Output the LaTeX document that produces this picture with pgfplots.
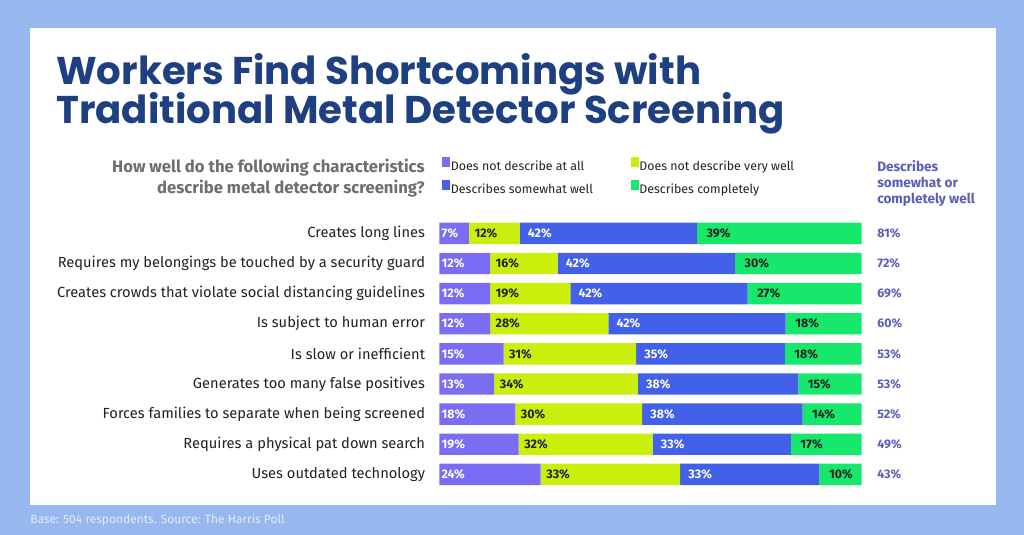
\documentclass[border=0pt]{standalone}
\usepackage{pgfplots}
\pgfplotsset{compat=1.18}
\usepackage{pgfplotstable}
\usepackage{fontspec}
\setmainfont{Fira Sans}
\newfontfamily\titlefont{Poppins}

\definecolor{bgblue}{HTML}{97B8EE}
\definecolor{cpurple}{HTML}{7B6CF4}
\definecolor{cyellow}{HTML}{CBEF0C}
\definecolor{cblue}{HTML}{4360E8}
\definecolor{cgreen}{HTML}{16E86C}
\definecolor{titleblue}{HTML}{1E3F82}
\definecolor{qgray}{HTML}{6E6E6E}
\definecolor{sumcol}{HTML}{5B5DBA}
\definecolor{footcol}{HTML}{E2EBFB}
\definecolor{textdark}{HTML}{222222}

% a..d: segment widths, la..ld: printed labels
\pgfplotstableread{
row a    b    c    d    la lb lc ld tot
0   7    12   42   39   7  12 42 39 81
1   12   16   42   30   12 16 42 30 72
2   12   19   42   27   12 19 42 27 69
3   12   28   42   18   12 28 42 18 60
4   15.2 31.4 35.2 18.2 15 31 35 18 53
5   13   34   38   15   13 34 38 15 53
6   18   30   38   14   18 30 38 14 52
7   18.8 31.7 32.7 16.8 19 32 33 17 49
8   24   33   33   10   24 33 33 10 43
}\datatable

\pgfplotsset{
  panel/.style={
    at={(329.5pt,34.2pt)}, anchor=south west,
    scale only axis, width=316.8pt, height=203.3pt,
    xmin=0, xmax=100, ymin=-0.5, ymax=8.5, y dir=reverse,
  },
  sq/.style={legend image code/.code={\fill[##1] (0pt,-0.5pt) rectangle (6pt,7pt);}},
}

\begin{document}
\begin{tikzpicture}[x=0.75pt, y=0.75pt]
% background and panel
\fill[bgblue] (0,0) rectangle (1024,535);
\fill[white] (30,30) rectangle (996,507);

% title
\node[anchor=base west, inner sep=0pt, text=titleblue, font=\titlefont\bfseries\fontsize{29}{32}\selectfont] at (56,450) {Workers Find Shortcomings with};
\node[anchor=base west, inner sep=0pt, text=titleblue, font=\titlefont\bfseries\fontsize{29}{32}\selectfont] at (56,411) {Traditional Metal Detector Screening};

% question
\node[anchor=base east, inner sep=0pt, text=qgray, font=\bfseries\fontsize{12.5}{14}\selectfont] at (425,362) {How well do the following characteristics};
\node[anchor=base east, inner sep=0pt, text=qgray, font=\bfseries\fontsize{12.5}{14}\selectfont] at (425,341) {describe metal detector screening?};

% right column header
\node[anchor=base west, inner sep=0pt, text=sumcol, font=\bfseries\fontsize{10.2}{12}\selectfont] at (877,363) {Describes};
\node[anchor=base west, inner sep=0pt, text=sumcol, font=\bfseries\fontsize{10.2}{12}\selectfont] at (877,347) {somewhat or};
\node[anchor=base west, inner sep=0pt, text=sumcol, font=\bfseries\fontsize{10.2}{12}\selectfont] at (877,331) {completely well};

% footer
\node[anchor=base west, inner sep=0pt, text=footcol, font=\fontsize{9}{10}\selectfont] at (30,11) {Base: 504 respondents. Source: The Harris Poll};

\begin{axis}[panel,
  xbar stacked, bar width=0.71,
  hide x axis,
  axis y line*=left,
  y axis line style={draw=none},
  major tick length=0pt,
  ytick={0,...,8},
  yticklabels={Creates long lines,
    Requires my belongings be touched by a security guard,
    Creates crowds that violate social distancing guidelines,
    Is subject to human error,
    Is slow or inefficient,
    Generates too many false positives,
    Forces families to separate when being screened,
    Requires a physical pat down search,
    Uses outdated technology},
  yticklabel style={font=\fontsize{11}{13}\selectfont, text=textdark, inner sep=0pt, xshift=-10.5pt},
  legend columns=2,
  legend cell align=left,
  legend style={at={(-0.003,1.237)}, anchor=north west, draw=none, fill=none,
    font=\fontsize{9.3}{11}\selectfont, text=textdark, row sep=6pt,
    nodes={inner xsep=0.5pt, inner ysep=0pt},
    /tikz/every even column/.append style={column sep=10.5pt}},
]
\addplot[fill=cpurple, draw=none, sq] table[x=a, y=row]{\datatable};
\addlegendentry{\makebox[123.75pt][l]{Does not describe at all}}
\addplot[fill=cyellow, draw=none, sq] table[x=b, y=row]{\datatable};
\addlegendentry{\makebox[123.75pt][l]{Does not describe very well}}
\addplot[fill=cblue, draw=none, sq] table[x=c, y=row]{\datatable};
\addlegendentry{\makebox[123.75pt][l]{Describes somewhat well}}
\addplot[fill=cgreen, draw=none, sq] table[x=d, y=row]{\datatable};
\addlegendentry{\makebox[123.75pt][l]{Describes completely}}
\end{axis}

% value labels
\begin{axis}[panel, hide axis, clip=false,
  nodes near coords={\pgfplotspointmeta\%},
  point meta=explicit symbolic,
  every node near coord/.append style={anchor=west, inner sep=0pt, font=\bfseries\fontsize{9.3}{11}\selectfont},
]
\addplot[draw=none, every node near coord/.append style={text=white, xshift=1.5pt}]
  table[x expr=0, y=row, meta=la]{\datatable};
\addplot[draw=none, every node near coord/.append style={text=textdark, xshift=4pt}]
  table[x expr=\thisrow{a}, y=row, meta=lb]{\datatable};
\addplot[draw=none, every node near coord/.append style={text=white, xshift=6pt}]
  table[x expr=\thisrow{a}+\thisrow{b}, y=row, meta=lc]{\datatable};
\addplot[draw=none, every node near coord/.append style={text=textdark, xshift=7pt}]
  table[x expr=\thisrow{a}+\thisrow{b}+\thisrow{c}, y=row, meta=ld]{\datatable};
\addplot[draw=none, every node near coord/.append style={text=sumcol, xshift=11.5pt}]
  table[x expr=100, y=row, meta=tot]{\datatable};
\end{axis}

\pgfresetboundingbox
\path (0,0) rectangle (1024,535);
\end{tikzpicture}
\end{document}
